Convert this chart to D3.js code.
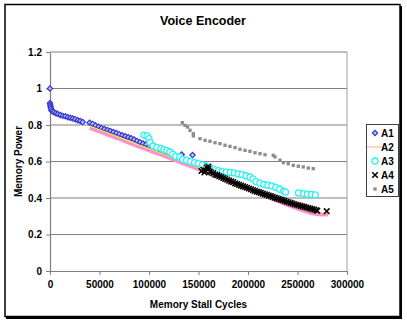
<!DOCTYPE html>
<html>
  <head>
    <meta charset="UTF-8">
    <title>Voice Encoder</title>
    <style type="text/css">
      body { margin: 0; background: #fff; }
      text { font-family: "Liberation Sans", Arial, sans-serif; font-weight: bold; }
    </style>
  </head>
  <body>
    <script src="https://cdnjs.cloudflare.com/ajax/libs/d3/7.8.5/d3.min.js"></script>
    <script>

      // Data
      var a1X = [0, 0, 300, 600, 1000, 1500, 2500, 4000, 6000, 8000, 10500, 13000, 15500, 18000, 20500, 23000,
                 25500, 28000, 30500, 33000, 40000, 43000, 46000, 49000, 52000, 55000, 58000, 61000, 64000,
                 67000, 70000, 73000, 76000, 79000, 82000, 85000, 88000, 91000, 94000, 97000, 100000, 103000,
                 106000, 109000, 112000, 115000, 118000, 121000, 133000, 144000];
      var a1Y = [1.0, 0.92, 0.91, 0.90, 0.89, 0.88, 0.875, 0.87, 0.865, 0.86, 0.855, 0.85, 0.848, 0.843, 0.84, 0.835,
                 0.832, 0.826, 0.822, 0.816, 0.812, 0.806, 0.797, 0.79, 0.784, 0.778, 0.772, 0.767, 0.762,
                 0.756, 0.75, 0.744, 0.738, 0.733, 0.727, 0.72, 0.713, 0.706, 0.698, 0.693, 0.685, 0.678,
                 0.672, 0.666, 0.66, 0.655, 0.648, 0.642, 0.638, 0.635];

      var a2X = [40000, 50000, 60000, 70000, 80000, 90000, 100000, 110000, 120000, 130000, 140000, 150000,
                 160000, 170000, 180000, 190000, 200000, 210000, 220000, 230000, 240000, 250000, 260000,
                 265000, 270000, 281000];
      var a2Y = [0.783, 0.763, 0.742, 0.722, 0.701, 0.680, 0.660, 0.640, 0.619, 0.598, 0.577, 0.556,
                 0.535, 0.513, 0.492, 0.470, 0.449, 0.427, 0.405, 0.383, 0.361, 0.340, 0.322,
                 0.314, 0.309, 0.308];

      var a3X = [95000, 98000, 100000, 101000, 104000, 108000, 112000, 115000, 118000, 121000, 124000, 127000,
                 131000, 134000, 138000, 142000, 146000, 150000, 154000, 158000, 162000, 166000, 170000, 174000,
                 178000, 182000, 186000, 190000, 194000, 198000, 202000, 205000, 208000, 212000, 216000, 220000,
                 224000, 228000, 232000, 236000, 238000, 251000, 256000, 260000, 264000, 268000];
      var a3Y = [0.745, 0.74, 0.725, 0.705, 0.685, 0.677, 0.672, 0.665, 0.66, 0.652, 0.64, 0.628,
                 0.625, 0.612, 0.607, 0.6, 0.594, 0.588, 0.582, 0.575, 0.565, 0.556, 0.55, 0.545,
                 0.542, 0.54, 0.538, 0.532, 0.528, 0.522, 0.515, 0.505, 0.49, 0.481, 0.474, 0.47,
                 0.466, 0.458, 0.448, 0.438, 0.432, 0.428, 0.424, 0.421, 0.42, 0.417];

      var a4X = [153000, 155000, 156000, 157000, 158500, 160000, 160000, 161500, 163000, 165000, 167000, 169000,
                 171000, 173000, 175000, 177000, 179000, 181000, 183000, 185000, 187000, 189000, 191000,
                 193000, 195000, 197000, 199000, 201000, 203000, 205000, 207000, 209000, 211000, 213000,
                 215000, 217000, 219000, 221000, 223000, 225000, 227000, 229000, 231000, 233000, 235000,
                 237000, 239000, 241000, 243000, 245000, 247000, 249000, 251000, 253000, 255000, 257000,
                 259000, 261000, 263000, 265000, 267000, 269000, 270000, 279500];
      var a4Y = [0.548, 0.555, 0.54, 0.55, 0.566, 0.56, 0.572, 0.545, 0.54, 0.535, 0.528, 0.525,
                 0.52, 0.515, 0.51, 0.505, 0.5, 0.495, 0.49, 0.487, 0.48, 0.477, 0.472,
                 0.468, 0.464, 0.46, 0.456, 0.452, 0.448, 0.443, 0.439, 0.435, 0.432, 0.428,
                 0.424, 0.42, 0.417, 0.413, 0.41, 0.406, 0.402, 0.398, 0.395, 0.391, 0.388,
                 0.384, 0.38, 0.377, 0.373, 0.37, 0.366, 0.363, 0.36, 0.357, 0.354, 0.351,
                 0.348, 0.345, 0.342, 0.339, 0.336, 0.333, 0.33, 0.328];

      var a5X = [133600, 136400, 139000, 141400, 144800, 144800, 151500, 156600, 161600, 166700, 171700, 176800,
                 181800, 186900, 191900, 197000, 202000, 207100, 212100, 217200, 225500, 227300, 232300,
                 235700, 240700, 245700, 250800, 255800, 260900, 265900];
      var a5Y = [0.813, 0.798, 0.789, 0.771, 0.752, 0.74, 0.725, 0.716, 0.711, 0.703, 0.698, 0.689,
                 0.683, 0.676, 0.667, 0.661, 0.656, 0.648, 0.643, 0.637, 0.634, 0.625, 0.607,
                 0.594, 0.588, 0.579, 0.574, 0.57, 0.564, 0.561];

      var seriesNames = ["A1", "A2", "A3", "A4", "A5"];
      var xTicks = [0, 50000, 100000, 150000, 200000, 250000, 300000];
      var yTicks = [0, 0.2, 0.4, 0.6, 0.8, 1, 1.2];

      // Build svg and canvas
      var svgWidth = 407,
          svgHeight = 322,
          margin = {top: 52, right: 60, bottom: 51, left: 50},
          width = svgWidth - margin.left - margin.right,
          height = svgHeight - margin.top - margin.bottom;

      var svg = d3.select("body")
                  .append("svg")
                  .attr("width", svgWidth)
                  .attr("height", svgHeight);

      // outer frame with shadow on right/bottom
      svg.append("rect")
         .attr("x", 6).attr("y", 6)
         .attr("width", 396).attr("height", 313)
         .attr("fill", "#000");
      svg.append("rect")
         .attr("x", 5).attr("y", 4.5)
         .attr("width", 395).attr("height", 312)
         .attr("fill", "#fff")
         .attr("stroke", "#000")
         .attr("stroke-width", 1.5);

      var canvas = svg.append("g")
                      .attr("transform", "translate(" + margin.left + "," + margin.top + ")");

      var xScale = d3.scaleLinear().domain([0, 300000]).range([0, width]);
      var yScale = d3.scaleLinear().domain([0, 1.2]).range([height, 0]);

      // gridlines
      canvas.append("g")
            .selectAll("line")
            .data(yTicks.slice(1))
            .enter()
            .append("line")
            .attr("x1", 0).attr("x2", width)
            .attr("y1", d => yScale(d)).attr("y2", d => yScale(d))
            .attr("stroke", "#808080")
            .attr("stroke-width", 1.2);

      // plot area right border
      canvas.append("line")
            .attr("x1", width).attr("x2", width)
            .attr("y1", 0).attr("y2", height)
            .attr("stroke", "#a0a0a0");

      // Axes
      var yAxis = d3.axisLeft(yScale).tickValues(yTicks).tickSize(4).tickSizeOuter(0)
                    .tickFormat(d => +d.toFixed(1));
      var xAxis = d3.axisBottom(xScale).tickValues(xTicks).tickSize(4).tickSizeOuter(0)
                    .tickFormat(d3.format("d"));

      var gY = canvas.append("g").call(yAxis);
      var gX = canvas.append("g").attr("transform", "translate(0," + height + ")").call(xAxis);

      [gX, gY].forEach(function(g) {
        g.select(".domain").attr("stroke", "#808080").attr("stroke-width", 1.2);
        g.selectAll(".tick line").attr("stroke", "#808080");
        g.selectAll(".tick text")
         .attr("fill", "#000")
         .style("font-size", "10px")
         .style("font-family", "Liberation Sans, Arial, sans-serif")
         .style("font-weight", "bold");
      });
      gY.selectAll(".tick text").attr("x", -8);
      gX.selectAll(".tick text").attr("y", 10);

      // Series
      function zip(xs, ys) { return xs.map((x, i) => ({x: x, y: ys[i]})); }

      var a1 = zip(a1X, a1Y), a2 = zip(a2X, a2Y), a3 = zip(a3X, a3Y),
          a4 = zip(a4X, a4Y), a5 = zip(a5X, a5Y);

      var line = d3.line().x(d => xScale(d.x)).y(d => yScale(d.y));

      var diamond = d3.symbol().type(d3.symbolSquare).size(14);
      var cross = d3.symbol().type(d3.symbolX).size(22);
      var square = d3.symbol().type(d3.symbolSquare).size(11);

      function drawA1(sel) {
        sel.append("path").attr("d", diamond())
           .attr("fill", "#c0c4ff").attr("stroke", "#3434d0").attr("stroke-width", 1.2);
      }
      function drawA3(sel) {
        sel.append("circle").attr("r", 3)
           .attr("fill", "#fff").attr("stroke", "#30f0f0").attr("stroke-width", 1.3);
      }
      function drawA4(sel) {
        sel.append("path").attr("d", cross())
           .attr("fill", "none").attr("stroke", "#000").attr("stroke-width", 1.5);
      }
      function drawA5(sel) {
        sel.append("path").attr("d", square()).attr("fill", "#8c8c8c");
      }

      // A1
      canvas.append("g").selectAll("g")
            .data(a1).enter().append("g")
            .attr("transform", d => "translate(" + xScale(d.x) + "," + yScale(d.y) + ") rotate(45)")
            .call(drawA1);

      // A2: pink band with yellow line
      canvas.append("path").datum(a2)
            .attr("d", line)
            .attr("fill", "none").attr("stroke", "#ff8fcf").attr("stroke-width", 3.4);
      canvas.append("path").datum(a2)
            .attr("d", line)
            .attr("transform", "translate(0,-2)")
            .attr("fill", "none").attr("stroke", "#f8ec20").attr("stroke-width", 1.1);

      // A3
      canvas.append("g").selectAll("g")
            .data(a3).enter().append("g")
            .attr("transform", d => "translate(" + xScale(d.x) + "," + yScale(d.y) + ")")
            .call(drawA3);

      // A4
      canvas.append("g").selectAll("g")
            .data(a4).enter().append("g")
            .attr("transform", d => "translate(" + xScale(d.x) + "," + yScale(d.y) + ")")
            .call(drawA4);

      // A5
      canvas.append("g").selectAll("g")
            .data(a5).enter().append("g")
            .attr("transform", d => "translate(" + xScale(d.x) + "," + yScale(d.y) + ")")
            .call(drawA5);

      // Titles
      svg.append("text")
         .attr("x", 203).attr("y", 25)
         .attr("text-anchor", "middle")
         .style("font-size", "12.5px")
         .text("Voice Encoder");

      svg.append("text")
         .attr("x", margin.left + width / 2).attr("y", 308)
         .attr("text-anchor", "middle")
         .style("font-size", "10px")
         .text("Memory Stall Cycles");

      svg.append("text")
         .attr("transform", "translate(22," + (margin.top + height / 2) + ") rotate(-90)")
         .attr("text-anchor", "middle")
         .style("font-size", "10px")
         .text("Memory Power");

      // Legend
      var legend = svg.append("g");
      legend.append("rect")
            .attr("x", 366.5).attr("y", 124.5)
            .attr("width", 32).attr("height", 72)
            .attr("fill", "#fff")
            .attr("stroke", "#404040");

      var legendY = d3.scalePoint().domain(seriesNames).range([133, 189]);
      var items = legend.selectAll("g.item")
                        .data(seriesNames).enter().append("g")
                        .attr("class", "item")
                        .attr("transform", d => "translate(375," + legendY(d) + ")");

      items.filter(d => d == "A1").append("g").attr("transform", "rotate(45)").call(drawA1);
      items.filter(d => d == "A2").append("line")
           .attr("x1", -8).attr("x2", 7).attr("y1", 0).attr("y2", 0)
           .attr("stroke", "#ffb0d8").attr("stroke-width", 1.2);
      items.filter(d => d == "A2").append("line")
           .attr("x1", -8).attr("x2", 7).attr("y1", -0.8).attr("y2", -0.8)
           .attr("stroke", "#f8ec60").attr("stroke-width", 0.6);
      items.filter(d => d == "A3").call(drawA3);
      items.filter(d => d == "A4").call(drawA4);
      items.filter(d => d == "A5").call(drawA5);

      items.append("text")
           .attr("x", 6).attr("y", 4)
           .style("font-size", "10px")
           .text(d => d);

    </script>
  </body>
</html>
